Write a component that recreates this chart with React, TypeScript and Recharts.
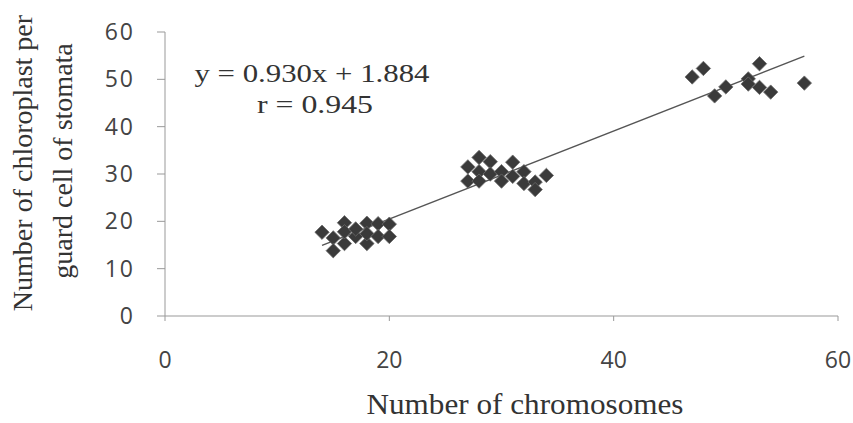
import {
  ScatterChart,
  Scatter,
  XAxis,
  YAxis,
  ReferenceLine,
} from "recharts";

// chromosome number (x) and chloroplasts per guard cell (y)
const chromosomes = [
  14, 15, 15, 16, 16, 16, 17, 17, 18, 18, 18, 19, 19, 20, 20,
  27, 27, 28, 28, 28, 29, 29, 30, 30, 31, 31, 32, 32, 33, 33, 34,
  47, 48, 49, 50, 52, 52, 53, 53, 54, 57,
];
const chloroplasts = [
  17.7, 16.5, 13.8, 19.7, 15.3, 17.8, 16.8, 18.4, 19.6, 15.3, 17.4, 19.5, 16.8, 19.4, 16.8,
  31.5, 28.5, 33.5, 30.5, 28.5, 32.6, 30.0, 30.5, 28.5, 32.5, 29.5, 30.5, 28.0, 28.3, 26.7, 29.7,
  50.5, 52.3, 46.5, 48.4, 50.1, 49.0, 53.3, 48.3, 47.3, 49.2,
];

const xTicks = [0, 20, 40, 60];
const yTicks = [0, 10, 20, 30, 40, 50, 60];

const slope = 0.93;
const intercept = 1.884;
const fitFrom = 14;
const fitTo = 57;

const points = chromosomes.map((x, i) => ({ x, y: chloroplasts[i] }));

const fit = (x: number) => slope * x + intercept;

const Diamond = (props: any) => {
  const { cx, cy } = props;
  if (cx == null || cy == null) return null;
  const r = 7.2;
  return (
    <path
      d={`M${cx},${cy - r}L${cx + r},${cy}L${cx},${cy + r}L${cx - r},${cy}Z`}
      fill="#3a3a3a"
      stroke="#6b6b6b"
      strokeWidth={0.8}
    />
  );
};

const tickStyle = {
  fontFamily: "'Open Sans', sans-serif",
  fontSize: 23,
  fill: "#444",
};

const serif = "'Liberation Serif', 'Times New Roman', serif";

export default function App() {
  return (
    <div
      style={{
        position: "absolute",
        left: 0,
        top: 0,
        width: 853,
        height: 423,
        background: "#fff",
      }}
    >
      <ScatterChart
        width={853}
        height={423}
        margin={{ top: 32, right: 15, left: 105, bottom: 0 }}
      >
        <XAxis
          type="number"
          dataKey="x"
          domain={[0, 60]}
          ticks={xTicks}
          height={107}
          tickSize={5}
          tickMargin={31}
          stroke="#999"
          tick={tickStyle}
          allowDataOverflow
        />
        <YAxis
          type="number"
          dataKey="y"
          domain={[0, 60]}
          ticks={yTicks}
          width={60}
          tickSize={8}
          tickMargin={22}
          stroke="#999"
          tick={{ ...tickStyle, letterSpacing: 2 }}
          allowDataOverflow
        />
        <ReferenceLine
          segment={[
            { x: fitFrom, y: fit(fitFrom) },
            { x: fitTo, y: fit(fitTo) },
          ]}
          stroke="#555"
          strokeWidth={1.4}
          ifOverflow="visible"
        />
        <Scatter
          data={points}
          shape={Diamond}
          isAnimationActive={false}
        />
      </ScatterChart>

      <svg
        width={853}
        height={423}
        style={{ position: "absolute", left: 0, top: 0, pointerEvents: "none" }}
      >
        <text
          x={312}
          y={82}
          textAnchor="middle"
          fontFamily={serif}
          fontSize={25}
          fill="#333"
          textLength={235}
          lengthAdjust="spacingAndGlyphs"
        >
          y = 0.930x + 1.884
        </text>
        <text
          x={315}
          y={113}
          textAnchor="middle"
          fontFamily={serif}
          fontSize={25}
          fill="#333"
          textLength={116}
          lengthAdjust="spacingAndGlyphs"
        >
          r = 0.945
        </text>
        <text
          x={525}
          y={414}
          textAnchor="middle"
          fontFamily={serif}
          fontSize={29}
          fill="#333"
          textLength={317}
          lengthAdjust="spacingAndGlyphs"
        >
          Number of chromosomes
        </text>
        <text
          transform="translate(32,163) rotate(-90)"
          textAnchor="middle"
          fontFamily={serif}
          fontSize={28}
          fill="#333"
        >
          Number of chloroplast per
        </text>
        <text
          transform="translate(72,161) rotate(-90)"
          textAnchor="middle"
          fontFamily={serif}
          fontSize={28}
          fill="#333"
        >
          guard cell of stomata
        </text>
      </svg>
    </div>
  );
}
